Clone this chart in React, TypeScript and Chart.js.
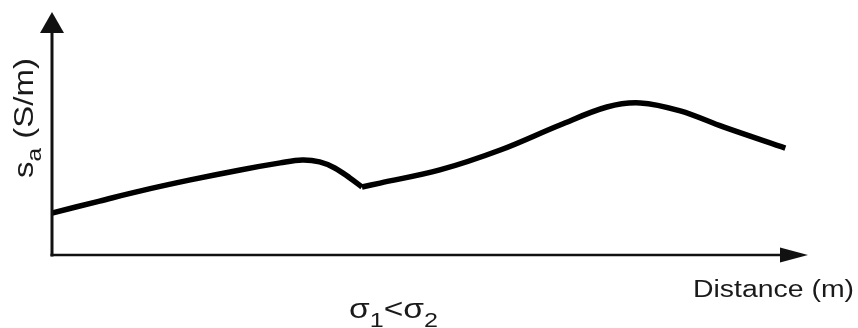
import React, { useEffect, useRef } from "react";
import { Chart, registerables } from "chart.js";

Chart.register(...registerables);

// Distance (arbitrary units 0..100) and apparent conductivity (arbitrary units 0..100)
const leftX = [0, 6.3, 11.6, 18.3, 24.9, 30.2, 33.1, 35.4, 37.4, 39.4, 41.0];
const leftY = [17.3, 22.2, 26.3, 30.9, 35.0, 37.9, 39.1, 38.3, 35.8, 31.7, 28.0];
const rightX = [41.0, 43.4, 51.3, 59.3, 67.2, 73.4, 77.8, 83.1, 88.8, 97.0];
const rightY = [28.0, 29.6, 35.0, 43.2, 53.5, 60.9, 62.6, 59.3, 52.7, 44.0];

const xTitle = "Distance (m)";
const yTitleMain = "s";
const yTitleSub = "a";
const yTitleRest = " (S/m)";
const condLabel = ["σ", "1", "<", "σ", "2"];

const FONT = '"Liberation Sans", Arial, sans-serif';

const axesPlugin = {
  id: "axesPlugin",
  afterDraw(chart: any) {
    const ctx = chart.ctx as CanvasRenderingContext2D;
    const a = chart.chartArea;
    const x0 = a.left;
    const y0 = a.bottom;
    ctx.save();
    ctx.strokeStyle = "#111";
    ctx.fillStyle = "#111";
    // y axis
    ctx.lineWidth = 3;
    ctx.beginPath();
    ctx.moveTo(x0, y0 + 1.5);
    ctx.lineTo(x0, a.top + 20);
    ctx.stroke();
    ctx.beginPath();
    ctx.moveTo(x0, a.top);
    ctx.lineTo(x0 - 12, a.top + 21);
    ctx.lineTo(x0 + 12, a.top + 21);
    ctx.closePath();
    ctx.fill();
    // x axis
    ctx.lineWidth = 2.5;
    ctx.beginPath();
    ctx.moveTo(x0 - 1.5, y0);
    ctx.lineTo(a.right - 27, y0);
    ctx.stroke();
    ctx.beginPath();
    ctx.moveTo(a.right, y0);
    ctx.lineTo(a.right - 28, y0 - 7.5);
    ctx.lineTo(a.right - 28, y0 + 7.5);
    ctx.closePath();
    ctx.fill();

    // x title
    ctx.fillStyle = "#1a1a1a";
    ctx.textBaseline = "alphabetic";
    ctx.textAlign = "left";
    ctx.font = `23px ${FONT}`;
    const xw = ctx.measureText(xTitle).width;
    ctx.save();
    ctx.translate(693, 297);
    ctx.scale(161 / xw, 1);
    ctx.fillText(xTitle, 0, 0);
    ctx.restore();

    // sigma label
    const parts = condLabel.map((t, i) => ({
      t,
      sub: i === 1 || i === 4,
    }));
    let total = 0;
    const widths: number[] = [];
    for (const p of parts) {
      ctx.font = p.sub ? `21px ${FONT}` : `28px ${FONT}`;
      const w = ctx.measureText(p.t).width;
      widths.push(w);
      total += w;
    }
    ctx.save();
    ctx.translate(349, 318);
    ctx.scale(89 / total, 1);
    let cx = 0;
    parts.forEach((p, i) => {
      ctx.font = p.sub ? `21px ${FONT}` : `28px ${FONT}`;
      ctx.fillText(p.t, cx, p.sub ? 9 : 0);
      cx += widths[i];
    });
    ctx.restore();

    // y title (rotated)
    ctx.font = `27px ${FONT}`;
    const w1 = ctx.measureText(yTitleMain).width;
    const w3 = ctx.measureText(yTitleRest).width;
    ctx.font = `20px ${FONT}`;
    const w2 = ctx.measureText(yTitleSub).width;
    const ytot = w1 + w2 + w3;
    ctx.save();
    ctx.translate(33, 178);
    ctx.rotate(-Math.PI / 2);
    ctx.scale(120 / ytot, 1);
    ctx.font = `27px ${FONT}`;
    ctx.fillText(yTitleMain, 0, 0);
    ctx.font = `20px ${FONT}`;
    ctx.fillText(yTitleSub, w1, 8);
    ctx.font = `27px ${FONT}`;
    ctx.fillText(yTitleRest, w1 + w2, 0);
    ctx.restore();

    ctx.restore();
  },
};

export default function App() {
  const ref = useRef<HTMLCanvasElement>(null);
  useEffect(() => {
    if (!ref.current) return;
    const mk = (xs: number[], ys: number[]) => xs.map((x, i) => ({ x, y: ys[i] }));
    const chart = new Chart(ref.current, {
      type: "line",
      data: {
        datasets: [
          {
            data: mk(leftX, leftY),
            borderColor: "#000",
            borderWidth: 5.5,
            pointRadius: 0,
            tension: 0.35,
            borderCapStyle: "butt",
          },
          {
            data: mk(rightX, rightY),
            borderColor: "#000",
            borderWidth: 5.5,
            pointRadius: 0,
            tension: 0.35,
            borderCapStyle: "butt",
          },
        ],
      },
      options: {
        animation: false,
        responsive: false,
        layout: { padding: { left: 52, right: 50, top: 12, bottom: 73 } },
        plugins: { legend: { display: false }, tooltip: { enabled: false } },
        scales: {
          x: { type: "linear", min: 0, max: 100, display: false },
          y: { type: "linear", min: 0, max: 100, display: false },
        },
      },
      plugins: [axesPlugin],
    });
    return () => chart.destroy();
  }, []);
  return (
    <div style={{ position: "fixed", left: 0, top: 0, width: 858, height: 328, background: "#fff" }}>
      <canvas ref={ref} width={858} height={328} style={{ width: 858, height: 328 }} />
    </div>
  );
}
